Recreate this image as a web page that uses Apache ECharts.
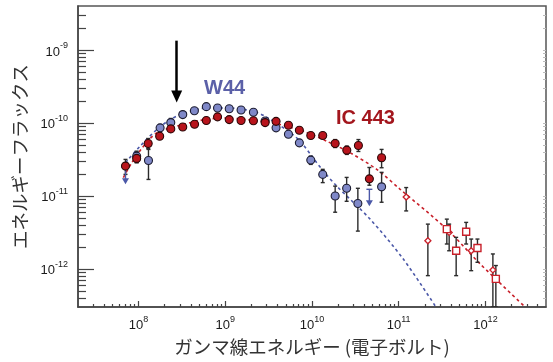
<!doctype html>
<html>
<head>
<meta charset="UTF-8">
<title>W44 / IC 443 ガンマ線スペクトル</title>
<script src="https://cdn.jsdelivr.net/npm/echarts@6/dist/echarts.min.js"></script>
<style>
html,body{margin:0;padding:0;background:#fff;}
#chart{width:553px;height:362px;}
</style>
</head>
<body>
<div id="chart"></div>
<script type="text/javascript">
// energy in eV, flux (E^2 dN/dE)
var w44E  = [9.5e7,1.30e8,1.77e8,2.35e8,3.23e8,4.40e8,6.04e8,8.14e8,1.11e9,1.52e9,2.11e9,2.88e9,3.85e9,5.35e9,7.15e9,9.68e9,1.33e10,1.85e10,2.51e10,3.38e10,6.35e10];
var w44F  = [3.50e-11,3.06e-11,8.55e-11,1.01e-10,1.30e-10,1.47e-10,1.67e-10,1.60e-10,1.56e-10,1.50e-10,1.40e-10,1.06e-10,8.55e-11,6.98e-11,5.33e-11,3.09e-11,1.97e-11,9.97e-12,1.27e-11,7.85e-12,1.33e-11];
var w44Hi = [4.10e-11,4.33e-11,9.48e-11,1.15e-10,null,null,null,null,null,null,null,null,null,null,null,3.50e-11,2.31e-11,1.36e-11,1.79e-11,1.27e-11,2.10e-11];
var w44Lo = [2.84e-11,1.68e-11,7.38e-11,8.91e-11,null,null,null,null,null,null,null,null,null,null,null,2.70e-11,1.52e-11,5.97e-12,8.43e-12,3.29e-12,8.18e-12];
// upper limits (arrow goes down to ulTo)
var w44UlE  = [7.06e7,4.59e10];
var w44UlF  = [2.54e-11,1.23e-11];
var w44UlTo = [1.44e-11,7.21e-12];

var icE  = [7.06e7,9.5e7,1.29e8,1.75e8,2.35e8,3.23e8,4.42e8,6.04e8,8.14e8,1.11e9,1.52e9,2.11e9,2.88e9,3.85e9,5.35e9,7.15e9,9.68e9,1.33e10,1.85e10,2.52e10,3.43e10,4.59e10,6.35e10];
var icF  = [2.56e-11,3.26e-11,5.22e-11,6.56e-11,8.28e-11,8.77e-11,9.58e-11,1.08e-10,1.21e-10,1.11e-10,1.08e-10,1.07e-10,1.01e-10,1.05e-10,9.27e-11,7.92e-11,6.71e-11,6.71e-11,5.22e-11,4.23e-11,4.90e-11,1.71e-11,3.33e-11];
var icHi = [3.16e-11,3.94e-11,6.11e-11,null,null,null,null,null,null,null,null,null,null,null,null,null,null,null,5.91e-11,4.80e-11,5.91e-11,2.45e-11,4.33e-11];
var icLo = [1.97e-11,2.87e-11,4.46e-11,null,null,null,null,null,null,null,null,null,null,null,null,null,null,null,4.60e-11,3.70e-11,4.06e-11,1.40e-11,2.43e-11];

// TeV points (small open diamonds / open squares)
var tevAE  = [1.22e11,2.17e11,3.82e11,6.86e11,1.22e12];
var tevAF  = [9.66e-12,2.43e-12,3.16e-12,1.77e-12,9.66e-13];
var tevAHi = [1.30e-11,4.10e-12,4.10e-12,2.56e-12,1.60e-12];
var tevALo = [6.22e-12,8.07e-13,1.77e-12,9.44e-13,3.0e-13];
var tevBE  = [3.59e11,4.6e11,6.0e11,8.1e11,1.32e12];
var tevBF  = [3.50e-12,1.77e-12,3.22e-12,1.93e-12,7.28e-13];
var tevBHi = [4.80e-12,2.70e-12,4.33e-12,2.56e-12,1.11e-12];
var tevBLo = [2.19e-12,8.07e-13,2.19e-12,1.23e-12,3.0e-13];

// model curves (dotted)
var w44FitE = [6.38e7,7.60e7,1.04e8,1.62e8,2.31e8,3.28e8,6.11e8,1.14e9,2.11e9,2.88e9,5.35e9,7.30e9,9.95e9,1.35e10,1.93e10,4.68e10,1.13e11,2.63e11];
var w44FitF = [2.45e-11,3.15e-11,4.80e-11,8.11e-11,1.11e-10,1.34e-10,1.60e-10,1.60e-10,1.44e-10,1.23e-10,7.67e-11,5.61e-11,3.50e-11,2.19e-11,1.36e-11,4.80e-12,1.36e-12,3.12e-13];
var icFitE = [6.67e7,8.34e7,1.14e8,1.62e8,2.75e8,5.11e8,9.51e8,1.77e9,3.01e9,4.28e9,7.96e9,1.48e10,2.75e10,5.58e10,1.04e11,3.59e11,8.69e11,2.75e12];
var icFitF = [1.78e-11,2.84e-11,4.80e-11,7.31e-11,9.00e-11,1.08e-10,1.17e-10,1.11e-10,1.02e-10,9.48e-11,7.67e-11,5.61e-11,3.90e-11,2.31e-11,1.23e-11,3.50e-12,1.17e-12,3.15e-13];

// arrow annotation
var arrowE = 2.75e8, arrowFrom = 1.34e-9, arrowTo = 2.3e-10;

// axis ranges and ticks (decade exponents)
var xRange = [2e7, 5e12];
var yRange = [3e-13, 4e-9];
var xDecades = [8, 9, 10, 11, 12];
var yDecades = [-12, -11, -10, -9];

var lg = Math.log10;
var BLUE = '#7f88c8', BLUE_LINE = '#4b58a8', BLUE_TXT = '#5b60a8';
var RED = '#b8141c', RED_LINE = '#c8202a', RED_TXT = '#a3161d';

function minorTicks(lo, hi) {
	var out = [];
	for (var n = Math.floor(lo); n <= Math.ceil(hi); n++) {
		for (var k = 2; k <= 9; k++) {
			var v = n + lg(k);
			if (v > lo && v < hi) out.push(v);
		}
	}
	return out;
}

function pts(E, F) {
	var d = [];
	for (var i = 0; i < E.length; i++) d.push([lg(E[i]), lg(F[i])]);
	return d;
}
function errs(E, lo, hi) {
	var d = [];
	for (var i = 0; i < E.length; i++) {
		if (lo[i] == null) continue;
		d.push([lg(E[i]), lg(Math.max(lo[i], yRange[0])), lg(hi[i])]);
	}
	return d;
}
function uls(E, F, to) {
	var d = [];
	for (var i = 0; i < E.length; i++) d.push([lg(E[i]), lg(F[i]), lg(to[i])]);
	return d;
}

function renderErr(params, api) {
	var x = api.value(0);
	var p1 = api.coord([x, api.value(2)]);
	var p2 = api.coord([x, api.value(1)]);
	var c = 2;
	var st = {stroke: '#2b2b2b', lineWidth: 1.4};
	return {type: 'group', children: [
		{type: 'line', shape: {x1: p1[0], y1: p1[1], x2: p2[0], y2: p2[1]}, style: st},
		{type: 'line', shape: {x1: p1[0]-c, y1: p1[1], x2: p1[0]+c, y2: p1[1]}, style: st},
		{type: 'line', shape: {x1: p2[0]-c, y1: p2[1], x2: p2[0]+c, y2: p2[1]}, style: st}
	]};
}

function renderUl(params, api) {
	var x = api.value(0);
	var p1 = api.coord([x, api.value(1)]);
	var p2 = api.coord([x, api.value(2)]);
	var col = BLUE_LINE;
	return {type: 'group', children: [
		{type: 'line', shape: {x1: p1[0]-3, y1: p1[1], x2: p1[0]+3, y2: p1[1]}, style: {stroke: col, lineWidth: 1.4}},
		{type: 'line', shape: {x1: p1[0], y1: p1[1], x2: p2[0], y2: p2[1]-5}, style: {stroke: col, lineWidth: 1.4}},
		{type: 'polygon', shape: {points: [[p2[0]-3.5, p2[1]-6], [p2[0]+3.5, p2[1]-6], [p2[0], p2[1]]]}, style: {fill: col}}
	]};
}

var supRich = {
	b: {fontSize: 13, fontFamily: 'Liberation Sans, Arial', color: '#1a1a1a', verticalAlign: 'bottom', lineHeight: 17},
	s: {fontSize: 9, fontFamily: 'Liberation Sans, Arial', color: '#1a1a1a', verticalAlign: 'top', lineHeight: 17}
};
function expLabel(v) { return '{b|10}{s|' + Math.round(v) + '}'; }

var xMin = lg(xRange[0]), xMax = lg(xRange[1]);
var yMin = lg(yRange[0]), yMax = lg(yRange[1]);
var axisCol = '#444';

var chart = echarts.init(document.getElementById('chart'));
var option = {
	backgroundColor: '#fff',
	animation: false,
	grid: {left: 78, right: 7, top: 6, bottom: 55, show: true, borderColor: '#555', borderWidth: 1.5, backgroundColor: 'transparent'},
	xAxis: [{
		type: 'value', min: xMin, max: xMax, position: 'bottom',
		name: 'ガンマ線エネルギー (電子ボルト)', nameLocation: 'middle', nameGap: 31,
		nameTextStyle: {fontSize: 18.5, color: '#333', fontFamily: 'Noto Sans CJK JP'},
		axisLine: {lineStyle: {color: axisCol, width: 1.5}},
		axisTick: {inside: true, length: 6, customValues: xDecades, lineStyle: {color: axisCol, width: 1.2}},
		axisLabel: {customValues: xDecades, margin: 8, formatter: expLabel, rich: supRich},
		splitLine: {show: false}
	}, {
		type: 'value', min: xMin, max: xMax, position: 'bottom',
		axisLine: {show: false},
		axisTick: {inside: true, length: 3, customValues: minorTicks(xMin, xMax), lineStyle: {color: axisCol, width: 1.2}},
		axisLabel: {show: false},
		splitLine: {show: false}
	}],
	yAxis: [{
		type: 'value', min: yMin, max: yMax, position: 'left',
		name: 'エネルギーフラックス', nameLocation: 'middle', nameGap: 44,
		nameTextStyle: {fontSize: 18.5, color: '#333', fontFamily: 'Noto Sans CJK JP'},
		axisLine: {lineStyle: {color: axisCol, width: 1.5}},
		axisTick: {inside: true, length: 16, customValues: yDecades, lineStyle: {color: axisCol, width: 1.2}},
		axisLabel: {customValues: yDecades, margin: 10, formatter: expLabel, rich: supRich},
		splitLine: {show: false}
	}, {
		type: 'value', min: yMin, max: yMax, position: 'left',
		axisLine: {show: false},
		axisTick: {inside: true, length: 8, customValues: minorTicks(yMin, yMax), lineStyle: {color: axisCol, width: 1.2}},
		axisLabel: {show: false},
		splitLine: {show: false}
	}, {
		type: 'value', min: yMin, max: yMax, position: 'right',
		axisLine: {show: false},
		axisTick: {inside: true, length: 3, customValues: minorTicks(yMin, yMax).concat(yDecades), lineStyle: {color: '#bbb', width: 1}},
		axisLabel: {show: false},
		splitLine: {show: false}
	}],
	graphic: [
		{type: 'text', left: 204, top: 78, style: {text: 'W44', fill: BLUE_TXT, font: 'bold 20px Liberation Sans, Arial'}},
		{type: 'text', left: 336, top: 108, style: {text: 'IC 443', fill: RED_TXT, font: 'bold 20px Liberation Sans, Arial'}}
	],
	series: [{
		type: 'line', data: pts(w44FitE, w44FitF), smooth: 0.3, symbol: 'none', clip: true, z: 1,
		lineStyle: {color: BLUE_LINE, width: 1.6, type: [3, 3]},
		markLine: {
			silent: true, symbol: ['none', 'triangle'], symbolSize: [11, 12], symbolRotate: 180,
			label: {show: false},
			lineStyle: {color: '#000', width: 2.5, type: 'solid'},
			data: [[{coord: [lg(arrowE), lg(arrowFrom)]}, {coord: [lg(arrowE), lg(arrowTo)]}]]
		}
	}, {
		type: 'line', data: pts(icFitE, icFitF), smooth: 0.3, symbol: 'none', clip: true, z: 1,
		lineStyle: {color: RED_LINE, width: 1.6, type: [3, 3]}
	}, {
		type: 'custom', renderItem: renderErr, clip: true, z: 2,
		data: errs(w44E, w44Lo, w44Hi).concat(errs(icE, icLo, icHi), errs(tevAE, tevALo, tevAHi), errs(tevBE, tevBLo, tevBHi))
	}, {
		type: 'custom', renderItem: renderUl, z: 3, data: uls(w44UlE, w44UlF, w44UlTo)
	}, {
		type: 'scatter', data: pts(w44E, w44F), symbol: 'circle', symbolSize: 8, z: 4,
		itemStyle: {color: BLUE, borderColor: '#1c1c30', borderWidth: 1.1, opacity: 1}
	}, {
		type: 'scatter', data: pts(icE, icF), symbol: 'circle', symbolSize: 8, z: 5,
		itemStyle: {color: RED, borderColor: '#2a0808', borderWidth: 1.1, opacity: 1}
	}, {
		type: 'scatter', data: pts(tevAE, tevAF), symbol: 'diamond', symbolSize: 6, z: 5,
		itemStyle: {color: '#fff', borderColor: RED_LINE, borderWidth: 1.3, opacity: 1}
	}, {
		type: 'scatter', data: pts(tevBE, tevBF), symbol: 'rect', symbolSize: 7, z: 5,
		itemStyle: {color: '#fff', borderColor: RED_LINE, borderWidth: 1.4, opacity: 1}
	}]
};
chart.setOption(option);
</script>
</body>
</html>
